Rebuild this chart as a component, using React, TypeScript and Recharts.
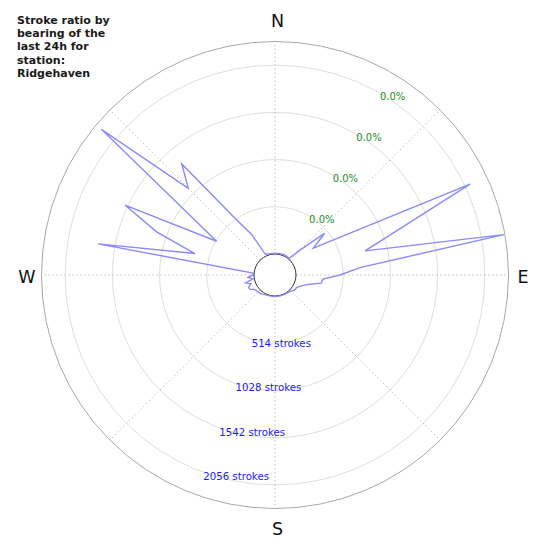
import React from 'react';
import { RadarChart, Radar, PolarGrid, PolarAngleAxis, PolarRadiusAxis } from 'recharts';

// Bearings (degrees clockwise from north), 5° bins
const bearings: number[] = [
  0, 5, 10, 15, 20, 25, 30, 35, 40, 45, 50, 55, 60, 65, 70, 75, 80, 85, 90, 95, 100, 105, 110, 115,
  120, 125, 130, 135, 140, 145, 150, 155, 160, 165, 170, 175, 180, 185, 190, 195, 200, 205, 210, 215,
  220, 225, 230, 235, 240, 245, 250, 255, 260, 265, 270, 275, 280, 285, 290, 295, 300, 305, 310, 315,
  320, 325, 330, 335, 340, 345, 350, 355,
];

// Strokes per bearing bin (null = no point, the line joins its neighbours)
const strokes: (number | null)[] = [
  8, 8, 10, 10, 12, 12, 12, 10, 6, 150, 475, 280, null, 2114, null, 786, 2300, 700, 480, 295, 283, 163, 100, 65,
  44, 40, 36, 20, 12, 8, 6, 6, 5, 5, 5, 5, 5, 5, 5, 6, 8, 10, 15, 25,
  30, 30, 35, 45, 85, 90, 50, 104, 16, 66, 10, 12, 1724, 674, 1143, 1573, 506, null, 2238, 1106,
  1350, 512, 285, 20, 15, 10, 8, 8,
];

const radiusMax = 2313;
const ringTicks: number[] = [514, 1028, 1542, 2056];
const compassLabels: Record<number, string> = { 0: 'N', 90: 'E', 180: 'S', 270: 'W' };
const titleLines: string[] = ['Stroke ratio by', 'bearing of the', 'last 24h for', 'station:', 'Ridgehaven'];

const data = bearings.map((b, i) => ({ bearing: b, strokes: strokes[i] }));

const CX = 275;
const CY = 275;
const INNER = 21;
const OUTER = 233.5;
const FONT = '"DejaVu Sans", Verdana, sans-serif';
const PCT_ANGLE = 60; // recharts angle (bearing 30°)

function CompassTick(props: any) {
  const { x, y, payload } = props;
  const label = compassLabels[payload?.value];
  if (!label) return <g />;
  const cx = typeof props.cx === 'number' ? props.cx : CX;
  const cy = typeof props.cy === 'number' ? props.cy : CY;
  const dx = x - cx;
  const dy = y - cy;
  const d = Math.hypot(dx, dy) || 1;
  const ux = dx / d;
  const uy = dy / d;
  const R = 248 + 6 * Math.abs(uy);
  const shiftX = Math.abs(uy) > 0.5 ? 2.5 : 0;
  const shiftY = Math.abs(ux) > 0.5 ? 2 : 0;
  return (
    <text
      x={cx + ux * R + shiftX}
      y={cy + uy * R + shiftY}
      textAnchor="middle"
      dominantBaseline="central"
      fontSize={17.5}
      fontFamily={FONT}
      fill="#111"
    >
      {label}
    </text>
  );
}

function RingTick(props: any) {
  const { x, y, payload } = props;
  const cx = typeof props.cx === 'number' ? props.cx : CX;
  const cy = typeof props.cy === 'number' ? props.cy : CY;
  const r = typeof payload?.coordinate === 'number' ? payload.coordinate : Math.hypot(x - cx, y - cy);
  const rad = (PCT_ANGLE * Math.PI) / 180;
  const px = cx + r * Math.cos(rad);
  const py = cy - r * Math.sin(rad);
  return (
    <g>
      <text x={x} y={y} dy={4.4} textAnchor="start" dominantBaseline="central" fontSize={10.2} fontFamily={FONT} fill="#1a1aff">
        {`${payload.value} strokes`}
      </text>
      <text x={px} y={py} dy={3.2} textAnchor="start" dominantBaseline="central" fontSize={10} fontFamily={FONT} fill="#1f8a1f">
        0.0%
      </text>
    </g>
  );
}

function StrokeShape(props: any) {
  const pts = (props.points || []).filter(
    (p: any) => p && p.payload && p.payload.strokes != null && Number.isFinite(p.x) && Number.isFinite(p.y)
  );
  if (!pts.length) return <g />;
  const d = pts.map((p: any, i: number) => `${i === 0 ? 'M' : 'L'}${p.x},${p.y}`).join('') + 'Z';
  return <path d={d} fill="none" stroke="#8a8aff" strokeWidth={1.4} strokeLinejoin="miter" />;
}

export default function App() {
  return (
    <div style={{ position: 'absolute', left: 0, top: 0, width: 550, height: 550, background: '#fff' }}>
      <RadarChart
        width={550}
        height={550}
        data={data}
        cx={CX}
        cy={CY}
        innerRadius={INNER}
        outerRadius={OUTER}
        startAngle={90}
        endAngle={-270}
        margin={{ top: 0, right: 0, bottom: 0, left: 0 }}
      >
        <PolarGrid gridType="circle" radialLines={false} stroke="#d4d4d4" strokeWidth={0.8} fill="none" />
        <PolarGrid
          gridType="circle"
          polarAngles={[0, 45, 90, 135, 180, 225, 270, 315]}
          polarRadius={[]}
          stroke="#b0b0b0"
          strokeWidth={0.8}
          strokeDasharray="1.5 2.5"
          fill="none"
        />
        <PolarGrid gridType="circle" radialLines={false} polarRadius={[OUTER]} stroke="#a8a8a8" strokeWidth={1} fill="none" />
        <PolarAngleAxis dataKey="bearing" axisLine={false} tickLine={false} tick={CompassTick} />
        <PolarRadiusAxis
          angle={-110}
          type="number"
          domain={[0, radiusMax]}
          ticks={ringTicks}
          axisLine={false}
          tick={RingTick}
        />
        <Radar
          dataKey="strokes"
          stroke="#8a8aff"
          strokeWidth={1.4}
          fill="none"
          fillOpacity={0}
          dot={false}
          shape={StrokeShape}
          isAnimationActive={false}
        />
        <PolarGrid gridType="circle" radialLines={false} polarRadius={[INNER]} stroke="#333" strokeWidth={1} fill="none" />
      </RadarChart>
      <div
        style={{
          position: 'absolute',
          left: 17,
          top: 14,
          fontFamily: FONT,
          fontWeight: 'bold',
          fontSize: 11,
          lineHeight: '13.2px',
          color: '#1a1a1a',
          whiteSpace: 'pre',
        }}
      >
        {titleLines.join('\n')}
      </div>
    </div>
  );
}
